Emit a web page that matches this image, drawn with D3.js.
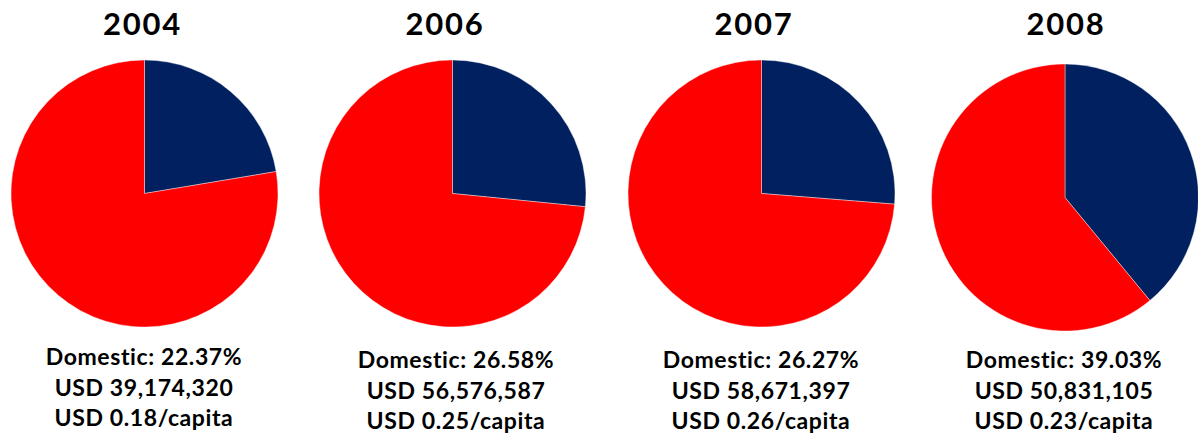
<!DOCTYPE html>
<html>
<head>
<meta charset="utf-8">
<script src="https://cdn.jsdelivr.net/npm/d3@7"></script>
<style>
  body { margin: 0; background: #fff; }
  svg text { font-family: Lato, "Open Sans", sans-serif; font-weight: bold; fill: #000; }
</style>
</head>
<body>
<svg id="chart" width="1198" height="437"></svg>
<script>
// values
var years = ["2004", "2006", "2007", "2008"];
var domesticShare = [22.37, 26.58, 26.27, 39.03];   // % domestic
var domesticUsd = [39174320, 56576587, 58671397, 50831105];
var perCapita = [0.18, 0.25, 0.26, 0.23];

var sliceNames = ["Domestic", "Other"];
var sliceColors = ["#002060", "#ff0000"];

// layout (one entry per pie)
var pieX = [144.5, 452.5, 761.5, 1065];
var pieY = [193.5, 193.5, 193.5, 197.5];
var titleX = [142.5, 445, 754, 1066];
var labelX = [144, 456, 761, 1064];
var labelY = [365, 368, 368, 368];
var radius = 133.5;

var svg = d3.select("#chart");
var color = d3.scaleOrdinal().domain(sliceNames).range(sliceColors);
var pie = d3.pie().sort(null).value(function (d) { return d.value; });
var arc = d3.arc().innerRadius(0).outerRadius(radius);
var fmtUsd = d3.format(",");

years.forEach(function (yr, i) {
    var slices = [
        {name: "Domestic", value: domesticShare[i]},
        {name: "Other", value: 100 - domesticShare[i]}
    ];

    var g = svg.append("g")
        .attr("transform", "translate(" + pieX[i] + "," + pieY[i] + ")");

    g.selectAll("path")
        .data(pie(slices))
        .enter()
        .append("path")
        .attr("d", arc)
        .attr("fill", function (d) { return color(d.data.name); })
        .attr("stroke", "#fff")
        .attr("stroke-width", 0.4);

    svg.append("text")
        .attr("x", titleX[i])
        .attr("y", 35)
        .attr("text-anchor", "middle")
        .style("font-size", "31px")
        .style("letter-spacing", "1.8px")
        .text(yr);

    var lines = [
        "Domestic: " + domesticShare[i].toFixed(2) + "%",
        "USD " + fmtUsd(domesticUsd[i]),
        "USD " + perCapita[i].toFixed(2) + "/capita"
    ];
    lines.forEach(function (t, k) {
        svg.append("text")
            .attr("x", labelX[i])
            .attr("y", labelY[i] + k * 30.5)
            .attr("text-anchor", "middle")
            .style("font-size", "23px")
            .style("letter-spacing", "0.6px")
            .text(t);
    });
});
</script>
</body>
</html>
